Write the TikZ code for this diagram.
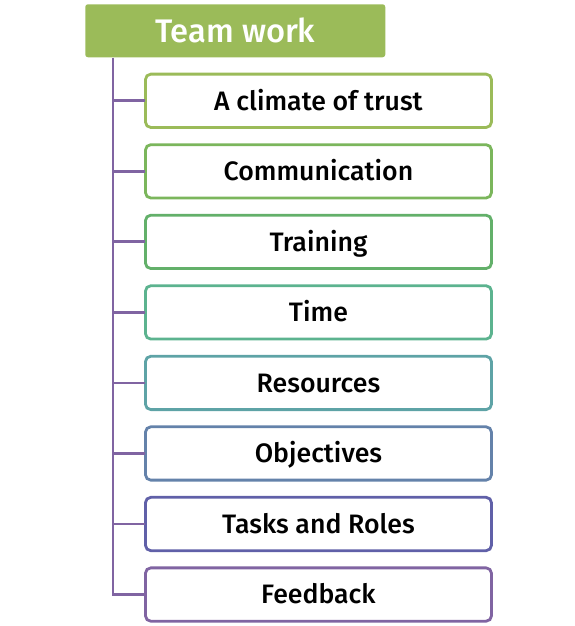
\documentclass[tikz,border=0pt]{standalone}
\usepackage{fontspec}
\setmainfont{Fira Sans Medium}
\usepackage{tikz}
\usetikzlibrary{positioning}

\definecolor{titlegreen}{HTML}{9BBB59}
\definecolor{spinepurple}{HTML}{8064A2}
\definecolor{cA}{HTML}{9BBB59}
\definecolor{cB}{HTML}{7BB65C}
\definecolor{cC}{HTML}{63B06A}
\definecolor{cD}{HTML}{5CB38F}
\definecolor{cE}{HTML}{5EA3A6}
\definecolor{cF}{HTML}{6482AA}
\definecolor{cG}{HTML}{6060A8}
\definecolor{cH}{HTML}{8064A2}

\tikzset{
    titlebox/.style={fill=titlegreen, text=white, rounded corners=2pt, minimum width=225pt, minimum height=39.75pt, font=\fontsize{24.5}{28}\selectfont, text height=17pt, text depth=0pt, inner sep=0pt},
    itembox/.style={draw=#1, fill=white, line width=2.1pt, rounded corners=4pt, minimum width=259.5pt, minimum height=40pt, font=\fontsize{20}{24}\selectfont, text height=13.8pt, text depth=0pt, inner sep=0pt, outer sep=0pt},
    branch/.style={draw=spinepurple, line width=2.1pt}
}

\begin{document}
\begin{tikzpicture}
        \useasboundingbox (0,0) rectangle (431.25pt,-469.5pt);
        \node[titlebox, anchor=north west] (title) at (63.75pt,-3pt) {Team work};
        
        \node[itembox=cA, anchor=north west] (trust) at (109.1pt,-55.6pt) {A climate of trust};
        \node[itembox=cB, below=12.9pt of trust] (comm) {Communication};
        \node[itembox=cC, below=12.9pt of comm] (training) {Training};
        \node[itembox=cD, below=12.9pt of training] (time) {Time};
        \node[itembox=cE, below=12.9pt of time] (resources) {Resources};
        \node[itembox=cF, below=12.9pt of resources] (objectives) {Objectives};
        \node[itembox=cG, below=12.9pt of objectives] (tasks) {Tasks and Roles};
        \node[itembox=cH, below=12.9pt of tasks] (feedback) {Feedback};
        
        \coordinate (spinetop) at ([xshift=21pt]title.south west);
        \draw[branch] (spinetop) |- (feedback.west);
        \draw[branch] (spinetop |- trust.west) -- (trust.west);
        \draw[branch] (spinetop |- comm.west) -- (comm.west);
        \draw[branch] (spinetop |- training.west) -- (training.west);
        \draw[branch] (spinetop |- time.west) -- (time.west);
        \draw[branch] (spinetop |- resources.west) -- (resources.west);
        \draw[branch] (spinetop |- objectives.west) -- (objectives.west);
        \draw[branch] (spinetop |- tasks.west) -- (tasks.west);
    \end{tikzpicture}
\end{document}
